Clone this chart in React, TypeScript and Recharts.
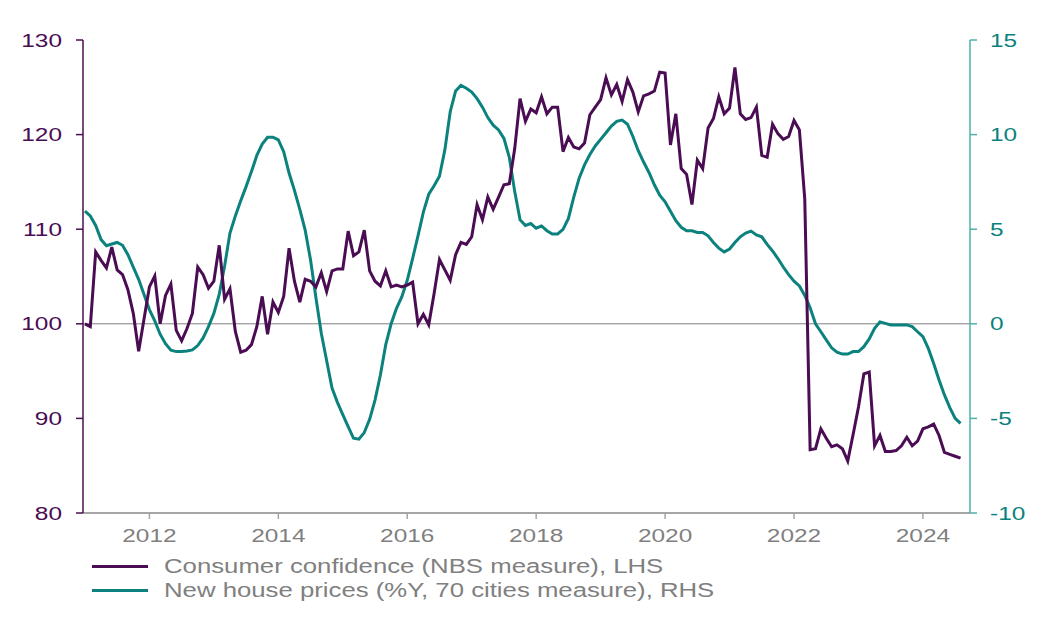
import React from "react";
import { LineChart, Line, XAxis, YAxis, ReferenceLine, Legend } from "recharts";

const PURPLE = "#4A0C52";
const TEAL = "#0B827D";
const GRAY = "#808080";
const SX = 1.32;
const FONT = "'Liberation Sans', Arial, sans-serif";

const startYear = 2011;

const consumerConfidence: number[] = [
  // 2011
  100.0, 99.7, 107.6, 106.7, 105.9, 108.1, 105.7, 105.2, 103.6, 101.1, 97.1, 100.5,
  // 2012
  103.9, 105.05, 100.0, 103.0, 104.2, 99.3, 98.2, 99.5, 101.1, 106.0, 105.2, 103.75,
  // 2013
  104.5, 108.3, 102.6, 103.7, 99.2, 97.0, 97.2, 97.8, 99.7, 102.9, 98.9, 102.3,
  // 2014
  101.2, 102.9, 108.0, 104.5, 102.3, 104.7, 104.5, 103.9, 105.4, 103.4, 105.6, 105.8,
  // 2015
  105.8, 109.8, 107.2, 107.6, 109.9, 105.6, 104.5, 104.0, 105.6, 103.9, 104.1, 103.9,
  // 2016
  104.1, 104.4, 100.0, 101.0, 99.9, 103.2, 106.8, 105.7, 104.6, 107.3, 108.6, 108.4,
  // 2017
  109.2, 112.6, 111.0, 113.4, 112.1, 113.4, 114.7, 114.8, 118.5, 123.8, 121.4, 122.7,
  // 2018
  122.3, 124.0, 122.2, 122.9, 122.9, 118.2, 119.7, 118.7, 118.5, 119.1, 122.1, 122.9,
  // 2019
  123.7, 126.0, 124.2, 125.3, 123.5, 125.8, 124.5, 122.4, 124.1, 124.3, 124.6, 126.6,
  // 2020
  126.5, 118.9, 122.2, 116.4, 115.8, 112.6, 117.3, 116.4, 120.7, 121.7, 124.0, 122.2,
  // 2021
  122.8, 127.1, 122.2, 121.6, 121.8, 122.9, 117.8, 117.6, 121.1, 120.1, 119.5, 119.8,
  // 2022
  121.5, 120.5, 113.2, 86.7, 86.8, 88.9, 87.9, 87.0, 87.2, 86.8, 85.5, 88.3,
  // 2023
  91.2, 94.7, 94.9, 87.1, 88.2, 86.5, 86.5, 86.6, 87.1, 88.0, 87.1, 87.6,
  // 2024
  88.9, 89.1, 89.4, 88.2, 86.4, 86.2, 86.0, 85.8,
];

const housePrices: number[] = [
  // 2011
  5.95, 5.7, 5.2, 4.45, 4.13, 4.22, 4.3, 4.15, 3.65, 3.0, 2.35, 1.55,
  // 2012
  0.75, 0.15, -0.55, -1.05, -1.4, -1.47, -1.47, -1.44, -1.38, -1.15, -0.75, -0.15,
  // 2013
  0.55, 1.55, 3.05, 4.8, 5.7, 6.5, 7.25, 8.05, 8.9, 9.5, 9.86, 9.86,
  // 2014
  9.72, 9.1, 7.97, 7.05, 6.05, 4.95, 3.37, 1.38, -0.5, -1.95, -3.4, -4.15,
  // 2015
  -4.8, -5.44, -6.05, -6.1, -5.75, -5.05, -4.03, -2.71, -1.1, 0.0, 0.82, 1.43,
  // 2016
  2.3, 3.45, 4.65, 5.9, 6.85, 7.3, 7.8, 9.19, 11.21, 12.3, 12.6, 12.45,
  // 2017
  12.25, 11.9, 11.45, 10.9, 10.5, 10.25, 9.8, 8.8, 7.0, 5.5, 5.2, 5.3,
  // 2018
  5.05, 5.17, 4.92, 4.75, 4.75, 4.99, 5.57, 6.7, 7.7, 8.4, 8.95, 9.4,
  // 2019
  9.75, 10.1, 10.45, 10.7, 10.77, 10.55, 9.9, 9.15, 8.55, 8.0, 7.35, 6.8,
  // 2020
  6.45, 5.95, 5.45, 5.1, 4.92, 4.92, 4.83, 4.83, 4.65, 4.3, 4.0, 3.8,
  // 2021
  3.95, 4.3, 4.6, 4.8, 4.9, 4.7, 4.6, 4.2, 3.85, 3.45, 3.0, 2.6,
  // 2022
  2.25, 2.0, 1.5, 0.85, 0.0, -0.42, -0.85, -1.27, -1.5, -1.6, -1.6, -1.47,
  // 2023
  -1.47, -1.21, -0.8, -0.24, 0.1, 0.02, -0.06, -0.06, -0.06, -0.06, -0.15, -0.42,
  // 2024
  -0.68, -1.3, -2.1, -2.97, -3.76, -4.43, -5.0, -5.26,
];

const xTicks = [2012, 2014, 2016, 2018, 2020, 2022, 2024];
const leftTicks = [80, 90, 100, 110, 120, 130];
const rightTicks = [-10, -5, 0, 5, 10, 15];

const seriesLabels = {
  cc: "Consumer confidence (NBS measure), LHS",
  hp: "New house prices (%Y, 70 cities measure), RHS",
};

const data = consumerConfidence.map((v, i) => ({
  t: startYear + i / 12,
  cc: v,
  hp: housePrices[i],
}));

const makeTick =
  (fill: string, anchor: "start" | "middle" | "end", dy: string) =>
  (props: any) => {
    const { x, y, payload } = props;
    return (
      <text
        transform={`translate(${x},${y}) scale(${SX},1)`}
        textAnchor={anchor}
        fill={fill}
        fontSize={18.5}
        fontFamily={FONT}
        dy={dy}
      >
        {payload.value}
      </text>
    );
  };

const legendItems = [
  { color: PURPLE, label: seriesLabels.cc },
  { color: TEAL, label: seriesLabels.hp },
];

const LegendContent = () => (
  <div style={{ paddingLeft: 84, paddingTop: 6, height: 60, boxSizing: "border-box" }}>
    {legendItems.map((it) => (
      <div
        key={it.label}
        style={{ display: "flex", alignItems: "center", height: 24, whiteSpace: "nowrap" }}
      >
        <span style={{ display: "inline-block", width: 56, height: 3, background: it.color }} />
        <span
          style={{
            display: "inline-block",
            marginLeft: 16,
            fontFamily: FONT,
            fontSize: 19.5,
            color: GRAY,
            transform: `scaleX(${SX})`,
            transformOrigin: "left center",
          }}
        >
          {it.label}
        </span>
      </div>
    ))}
  </div>
);

export default function App() {
  return (
    <LineChart
      width={1029}
      height={604}
      data={data}
      margin={{ top: 32, right: 0, bottom: 4, left: 0 }}
    >
      <XAxis
        dataKey="t"
        type="number"
        domain={[2010.97, 2024.73]}
        ticks={xTicks}
        allowDataOverflow
        height={35}
        axisLine={{ stroke: "#A6A6A6", strokeWidth: 2 }}
        tickLine={{ stroke: "#A6A6A6", strokeWidth: 1.5 }}
        tickSize={6}
        tickMargin={10}
        tick={makeTick(GRAY, "middle", "0.71em")}
      />
      <YAxis
        yAxisId="left"
        orientation="left"
        width={75}
        domain={[80, 130]}
        ticks={leftTicks}
        axisLine={{ stroke: PURPLE, strokeWidth: 1.5 }}
        tickLine={{ stroke: PURPLE, strokeWidth: 1.5 }}
        tickSize={7}
        tickMargin={14}
        tick={makeTick(PURPLE, "end", "0.36em")}
      />
      <YAxis
        yAxisId="right"
        orientation="right"
        width={67}
        domain={[-10, 15]}
        ticks={rightTicks}
        axisLine={{ stroke: "#4FAFAA", strokeWidth: 1.5 }}
        tickLine={{ stroke: "#4FAFAA", strokeWidth: 1.5 }}
        tickSize={7}
        tickMargin={13}
        tick={makeTick(TEAL, "start", "0.36em")}
      />
      <ReferenceLine yAxisId="left" y={100} stroke={GRAY} strokeWidth={1} />
      <Legend verticalAlign="bottom" content={<LegendContent />} />
      <Line
        yAxisId="right"
        dataKey="hp"
        stroke={TEAL}
        strokeWidth={3}
        dot={false}
        activeDot={false}
        isAnimationActive={false}
      />
      <Line
        yAxisId="left"
        dataKey="cc"
        stroke={PURPLE}
        strokeWidth={3}
        dot={false}
        activeDot={false}
        isAnimationActive={false}
      />
    </LineChart>
  );
}
